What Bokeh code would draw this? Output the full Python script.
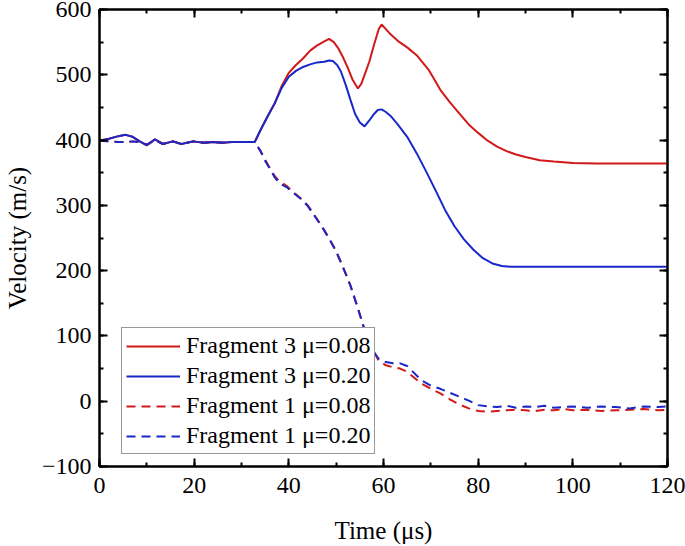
from bokeh.plotting import figure
from bokeh.models import LinearAxis, SingleIntervalTicker, Legend, LegendItem, Range1d, CustomJSTickFormatter
from bokeh.embed import file_html
from bokeh.resources import INLINE

# ---- data (time in µs, velocity in m/s) ----
t_early = [0, 2, 4, 5.5, 7, 8.5, 10, 11.7, 13.4, 15.5, 17.3, 19.8, 22, 24, 26, 28, 30, 31.5]
v_early_f3 = [399, 402, 406, 408, 405, 398, 392, 401, 394, 398, 394, 398, 396, 397, 396, 397, 397, 397]
v_early_f1 = [399, 398, 397, 397, 398, 397, 393, 400, 394, 398, 394, 398, 396, 397, 396, 397, 397, 397]

t_f3_a = [32.8, 34, 35.5, 37, 38.5, 40, 41.5, 43, 44.5, 46, 47.5, 48.5, 49.5, 50.5, 51.5, 52.5, 53.5,
          54.6, 55.3, 56, 57, 58, 59, 59.6, 60.5, 61.5, 63, 65, 67, 69.5, 70.5, 72, 74, 76, 78, 80,
          82, 84, 86, 88, 90, 93, 96, 100, 105, 110, 115, 120]
v_f3_a = [397, 415, 436, 456, 483, 503, 515, 525, 537, 545, 551, 555, 550, 540, 526, 510, 492,
          479, 486, 500, 520, 546, 570, 577, 570, 562, 552, 542, 530, 508, 496, 477, 458, 441, 424, 411,
          399, 390, 383, 378, 374, 369, 367, 365, 364, 364, 364, 364]

t_f3_b = [32.8, 34, 35.5, 37, 38.5, 40, 41.5, 43, 44.5, 46, 47.5, 48.5, 49.3, 50.2, 51, 52, 53, 54,
          55, 56, 57, 58, 58.8, 59.6, 60.5, 61.5, 63, 65, 67, 69, 71, 73, 75, 77, 79, 81, 83, 85,
          87, 90, 95, 100, 110, 120]
v_f3_b = [397, 415, 436, 456, 480, 497, 506, 512, 516, 519, 520, 522, 521, 515, 505, 485, 462, 440,
          427, 421, 430, 440, 446, 447, 443, 437, 424, 405, 380, 352, 323, 293, 268, 248, 232, 219, 211, 207,
          206, 206, 206, 206, 206, 206]

t_f1_a = [32.8, 34, 35, 36, 37, 38, 39.5, 41, 42.5, 44, 45.5, 47, 48.5, 50, 51.5, 53, 54.5, 56,
          57.5, 59, 60.5, 62, 63.5, 65, 66.5, 68, 70, 72, 74, 76, 78, 80, 82, 84, 86, 88, 90, 92,
          94, 96, 98, 100, 103, 106, 109, 112, 115, 118, 120]
v_f1_a = [397, 384, 370, 357, 345, 337, 330, 320, 311, 300, 284, 268, 250, 230, 205, 178, 145, 110,
          82, 62, 55, 52, 50, 45, 36, 27, 19, 12, 3, -5, -11, -15, -16, -15, -14, -13, -14, -15,
          -13, -14, -12, -14, -13, -15, -14, -13, -12, -14, -13]

t_f1_b = [32.8, 34, 35, 36, 37, 38, 39.5, 41, 42.5, 44, 45.5, 47, 48.5, 50, 51.5, 53, 54.5, 56,
          57.5, 59, 60.5, 62, 63.5, 65, 66.5, 68, 70, 72, 74, 76, 78, 80, 82, 84, 86, 88, 90, 92,
          94, 96, 98, 100, 103, 106, 109, 112, 115, 118, 120]
v_f1_b = [397, 383, 368, 356, 343, 334, 328, 319, 310, 299, 283, 267, 249, 229, 204, 177, 144, 109,
          80, 65, 60, 58, 58, 54, 43, 32, 24, 19, 13, 7, 1, -6, -8, -9, -7, -10, -8, -9,
          -7, -10, -9, -8, -10, -8, -9, -11, -8, -9, -8]

labels = ["Fragment 3 \u03bc=0.08", "Fragment 3 \u03bc=0.20",
          "Fragment 1 \u03bc=0.08", "Fragment 1 \u03bc=0.20"]

RED = "#D21919"
BLUE = "#1928C8"
FONT = "Liberation Serif"

p = figure(width=685, height=546, x_range=Range1d(0, 120), y_range=Range1d(-100, 600),
           output_backend="svg", toolbar_location=None,
           min_border_left=98, min_border_right=18, min_border_top=9, min_border_bottom=80)

p.xgrid.grid_line_color = None
p.ygrid.grid_line_color = None
p.outline_line_color = "black"
p.outline_line_width = 2
p.background_fill_color = "white"
p.border_fill_color = "white"

xb = p.below[0]
yl = p.left[0]
xb.ticker = SingleIntervalTicker(interval=20, num_minor_ticks=2)
yl.ticker = SingleIntervalTicker(interval=100, num_minor_ticks=2)

blank = CustomJSTickFormatter(code="return '';")
xa = LinearAxis(ticker=SingleIntervalTicker(interval=20, num_minor_ticks=2), formatter=blank)
yr = LinearAxis(ticker=SingleIntervalTicker(interval=100, num_minor_ticks=2), formatter=blank)
p.add_layout(xa, "above")
p.add_layout(yr, "right")

for ax in (xb, yl, xa, yr):
    ax.axis_line_width = 2
    ax.axis_line_color = "black"
    ax.major_tick_line_width = 2
    ax.minor_tick_line_width = 2
    ax.major_tick_in = 8
    ax.major_tick_out = 0
    ax.minor_tick_in = 4
    ax.minor_tick_out = 0
    ax.major_label_text_font = FONT
    ax.major_label_text_font_size = "24px"
    ax.major_label_text_color = "black"
    ax.major_label_standoff = 8

xb.major_label_standoff = 11
for ax in (xa, yr):
    ax.major_label_standoff = 0
    ax.major_label_text_font_size = "6px"

xb.axis_label = "Time (\u03bcs)"
yl.axis_label = "Velocity (m/s)"
for ax in (xb, yl):
    ax.axis_label_text_font = FONT
    ax.axis_label_text_font_size = "25px"
    ax.axis_label_text_font_style = "normal"
    ax.axis_label_text_color = "black"
xb.axis_label_standoff = 21
yl.axis_label_standoff = 8

r1 = p.line(t_early + t_f3_a, v_early_f3 + v_f3_a, line_color=RED, line_width=2)
r2 = p.line(t_early + t_f3_b, v_early_f3 + v_f3_b, line_color=BLUE, line_width=2)
r3 = p.line(t_early + t_f1_a, v_early_f1 + v_f1_a, line_color=RED, line_width=2, line_dash="9 6")
r4 = p.line(t_early + t_f1_b, v_early_f1 + v_f1_b, line_color=BLUE, line_width=2, line_dash="9 6")

legend = Legend(items=[LegendItem(label=labels[0], renderers=[r1]),
                       LegendItem(label=labels[1], renderers=[r2]),
                       LegendItem(label=labels[2], renderers=[r3]),
                       LegendItem(label=labels[3], renderers=[r4])],
                location=(22, 12), margin=0, padding=4, spacing=3,
                glyph_width=54, glyph_height=20, label_standoff=6, label_height=20,
                label_text_font=FONT, label_text_font_size="24px", label_text_color="black",
                border_line_color="#333333", border_line_width=1,
                background_fill_color="white", background_fill_alpha=1)
p.add_layout(legend, "center")

open("out.html", "w").write(file_html(p, INLINE))
